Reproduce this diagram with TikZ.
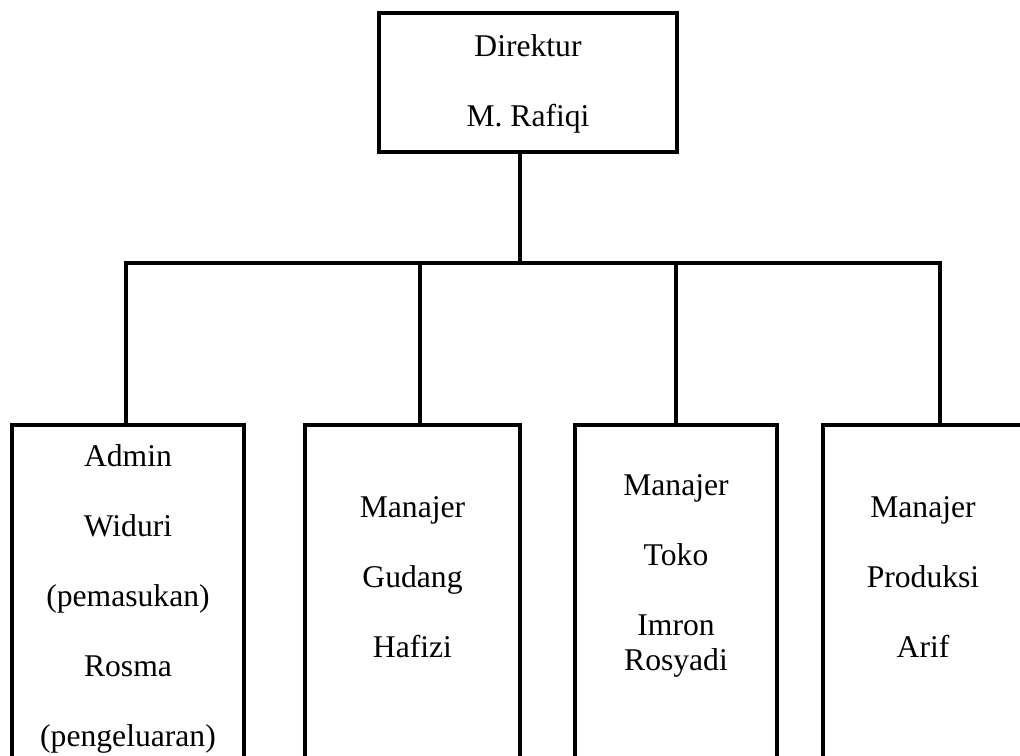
\documentclass[tikz,border=0pt]{standalone}
\usepackage{fontspec}
\setmainfont{Liberation Serif}
\usetikzlibrary{positioning}

\begin{document}
\begin{tikzpicture}[x=0.02cm,y=-0.02cm,line width=0.09cm,
    unit/.style={draw,rectangle,anchor=north,minimum height=6.94cm,inner sep=0pt},
    names/.style={align=center,inner sep=0pt,outer sep=0pt,font=\fontsize{18}{19.9}\selectfont}]

    \useasboundingbox (0,0) rectangle (1020,756);
    \clip (0,0) rectangle (1020,756);

    % direktur
    \node[draw,rectangle,minimum width=5.96cm,minimum height=2.78cm] (dir) at (528,82.5) {};
    \node[names,below=0.48cm of dir.north] (dirname) {Direktur\\[19.9pt]M. Rafiqi};

    % bagian
    \node[unit,minimum width=4.64cm] (admin) at (128,423) {};
    \node[unit,minimum width=4.3cm] (gudang) at (412.5,423) {};
    \node[unit,minimum width=4.04cm] (toko) at (676,423) {};
    \node[unit,minimum width=4cm] (produksi) at (923,423) {};

    \node[names,below=0.44cm of admin.north] (adminname)
        {Admin\\[19.9pt]Widuri\\[19.9pt](pemasukan)\\[19.9pt]Rosma\\[19.9pt](pengeluaran)};
    \node[names,below=1.48cm of gudang.north] (gudangname)
        {Manajer\\[19.9pt]Gudang\\[19.9pt]Hafizi};
    \node[names,below=1.04cm of toko.north] (tokoname)
        {Manajer\\[19.9pt]Toko\\[19.9pt]Imron\\Rosyadi};
    \node[names,below=1.48cm of produksi.north] (produksiname)
        {Manajer\\[19.9pt]Produksi\\[19.9pt]Arif};

    % garis
    \coordinate (hub) at (520,263);
    \coordinate (j1) at (126,263);
    \coordinate (j2) at (420,263);
    \coordinate (j3) at (676,263);
    \coordinate (j4) at (940,263);

    \draw (hub |- dir.south) -- (hub);
    \draw (j1 |- admin.north) -- (j1) -- (j4) -- (j4 |- produksi.north);
    \draw (j2) -- (j2 |- gudang.north);
    \draw (j3) -- (j3 |- toko.north);

\end{tikzpicture}
\end{document}
